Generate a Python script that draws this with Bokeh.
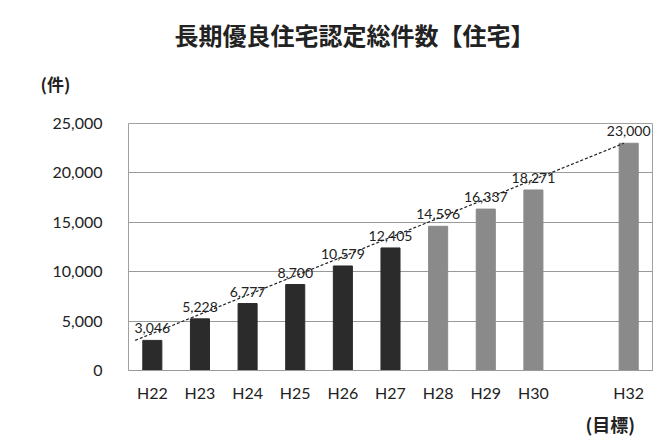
from bokeh.plotting import figure
from bokeh.models import (FactorRange, Range1d, ColumnDataSource, LabelSet, Title,
                          NumeralTickFormatter, FixedTicker)
from bokeh.core.properties import value
from bokeh.embed import file_html
from bokeh.resources import INLINE

# ---- data ----
years = ["H22", "H23", "H24", "H25", "H26", "H27", "H28", "H29", "H30", "H32"]
counts = [3046, 5228, 6777, 8700, 10579, 12405, 14596, 16337, 18271, 23000]
n_results = 6  # H22-H27 results (dark), rest gray
slots = ["H22", "H23", "H24", "H25", "H26", "H27", "H28", "H29", "H30", " ", "H32"]
yticks = [0, 5000, 10000, 15000, 20000, 25000]
title_text = "長期優良住宅認定総件数【住宅】"
unit_text = "(件)"
target_text = "(目標)"

DARK = "#2b2b2b"
GRAY = "#8a8a8a"
colors = [DARK if i < n_results else GRAY for i in range(len(years))]
labels = [f"{v:,}" for v in counts]

src = ColumnDataSource(dict(year=years, count=counts, color=colors, label=labels))

p = figure(width=664, height=440,
           x_range=FactorRange(*slots), y_range=Range1d(0, 25000),
           output_backend="svg", toolbar_location=None,
           min_border_left=128, min_border_right=12,
           min_border_top=123, min_border_bottom=68)

p.background_fill_color = "white"
p.border_fill_color = "white"
p.outline_line_color = "#a0a0a0"

p.xgrid.visible = False
p.ygrid.grid_line_color = "#9a9a9a"
p.ygrid.ticker = FixedTicker(ticks=yticks)

p.yaxis.ticker = FixedTicker(ticks=yticks)
p.yaxis.formatter = NumeralTickFormatter(format="0,0")
p.yaxis.axis_line_color = None
p.yaxis.major_tick_line_color = None
p.yaxis.minor_tick_line_color = None
p.yaxis.major_label_standoff = 20
p.yaxis.major_label_text_font = "Lato"
p.yaxis.major_label_text_font_size = "16px"
p.yaxis.major_label_text_color = "#222222"

p.xaxis.axis_line_color = "#999999"
p.xaxis.major_tick_line_color = None
p.xaxis.minor_tick_line_color = None
p.xaxis.major_label_standoff = 6
p.xaxis.major_label_text_font = "Lato"
p.xaxis.major_label_text_font_size = "16px"
p.xaxis.major_label_text_color = "#222222"

p.vbar(x="year", top="count", width=0.4, color="color", source=src)

# dashed trend line from first to last value
p.line(x=[(years[0], -0.36), (years[-1], -0.1)], y=[counts[0], counts[-1]],
       line_color="#222222", line_width=1.2, line_dash="3 2")

p.add_layout(LabelSet(x="year", y="count", text="label", source=src,
                      y_offset=7, text_align="center", text_baseline="bottom",
                      text_font=value("Lato"), text_font_size="14px",
                      text_color="#222222"))

p.add_layout(Title(text=unit_text, align="left", offset=-88, standoff=56,
                   text_font="Noto Sans CJK JP", text_font_style="bold",
                   text_font_size="17px", text_color="#222222"), "above")
p.add_layout(Title(text=title_text, align="left", offset=46, standoff=-23,
                   text_font="Noto Sans CJK JP", text_font_style="bold",
                   text_font_size="24px", text_color="#222222"), "above")
p.add_layout(Title(text=target_text, align="left", offset=457, standoff=8,
                   text_font="Noto Sans CJK JP", text_font_style="bold",
                   text_font_size="18px", text_color="#222222"), "below")

open("out.html", "w").write(file_html(p, INLINE))
